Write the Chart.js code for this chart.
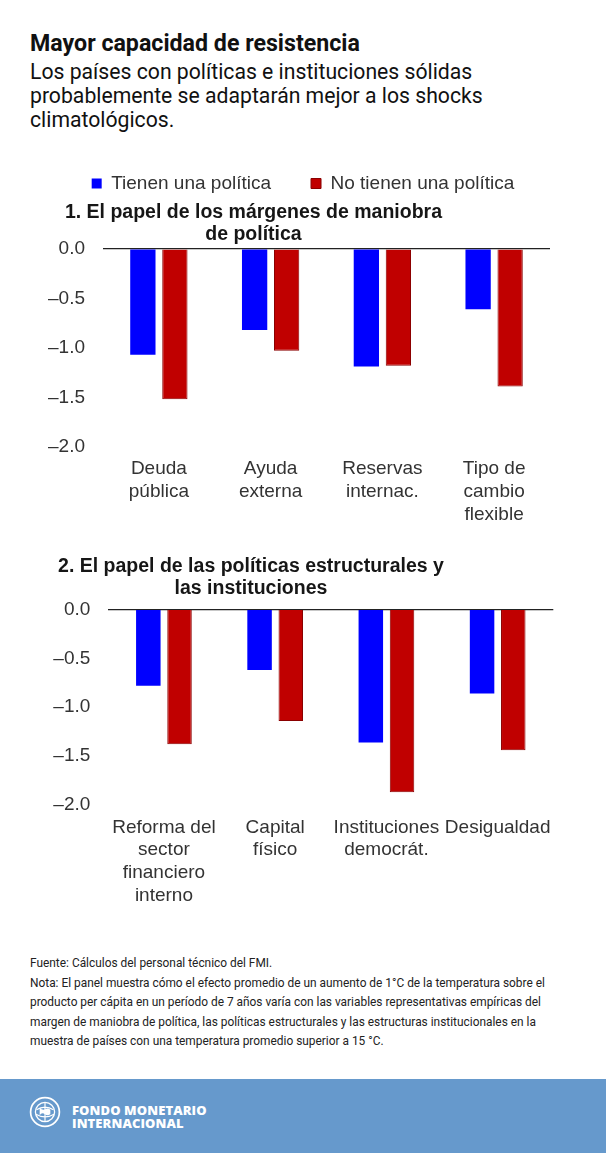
<!DOCTYPE html>
<html lang="es">
<head>
<meta charset="utf-8">
<script src="https://cdn.jsdelivr.net/npm/chart.js@4.4.1/dist/chart.umd.min.js"></script>
<style>
  html, body { margin: 0; padding: 0; background: #fff; }
  body { width: 606px; height: 1153px; position: relative; overflow: hidden; }
  .abs { position: absolute; }
  #title { left: 30px; top: 31px; font: 700 23.2px/24px Roboto, sans-serif; color: #111; white-space: nowrap; }
  #subtitle { left: 30px; top: 59.5px; font: 400 21.2px/24px Roboto, sans-serif; color: #111; white-space: nowrap; }
  .ptitle { left: 0; width: 507px; text-align: center; font: 700 19.5px/22px "Liberation Sans", Arial, sans-serif; color: #161616; z-index: 3; white-space: nowrap; }
  #p1title { top: 200px; }
  #p2title { top: 554px; width: 502px; }
  #c1wrap { left: 0; top: 134px; width: 606px; height: 406px; }
  #c2wrap { left: 0; top: 580px; width: 606px; height: 340px; }
  #notes { left: 30px; top: 954px; font: 400 11.9px/19.5px Roboto, sans-serif; color: #222; white-space: nowrap; }
  #band { left: 0; top: 1079px; width: 606px; height: 74px; background: #6699cc; }
  #logo { left: 29px; top: 17px; }
  #imf { left: 72px; top: 24.5px; font: 800 13px/13px "Open Sans", sans-serif; color: #fff; letter-spacing: 0.1px; white-space: nowrap; }
</style>
</head>
<body>
<div id="title" class="abs">Mayor capacidad de resistencia</div>
<div id="subtitle" class="abs">Los países con políticas e instituciones sólidas<br>probablemente se adaptarán mejor a los shocks<br>climatológicos.</div>

<div id="c1wrap" class="abs"><canvas id="chart1"></canvas></div>
<div id="c2wrap" class="abs"><canvas id="chart2"></canvas></div>

<div id="p1title" class="abs ptitle">1. El papel de los márgenes de maniobra<br>de política</div>
<div id="p2title" class="abs ptitle">2. El papel de las políticas estructurales y<br>las instituciones</div>

<div id="notes" class="abs">Fuente: Cálculos del personal técnico del FMI.<br>Nota: El panel muestra cómo el efecto promedio de un aumento de 1°C de la temperatura sobre el<br>producto per cápita en un período de 7 años varía con las variables representativas empíricas del<br>margen de maniobra de política, las políticas estructurales y las estructuras institucionales en la<br>muestra de países con una temperatura promedio superior a 15 °C.</div>

<div id="band" class="abs">
  <svg id="logo" class="abs" width="32" height="32" viewBox="0 0 30 30">
    <circle cx="15" cy="15" r="13.5" fill="none" stroke="#fff" stroke-width="1.6"/>
    <circle cx="15" cy="15" r="9" fill="none" stroke="#fff" stroke-width="1.2"/>
    <path d="M7 13 Q15 8 23 13 M6.5 17 Q15 22 23.5 17 M15 6 L15 24" fill="none" stroke="#fff" stroke-width="1.1"/>
    <path d="M10 11 q3 3 6 1 q2 -1 4 1 l0 4 q-3 2 -5 0 q-3 -2 -5 1z" fill="#fff"/>
  </svg>
  <div id="imf" class="abs">FONDO MONETARIO<br>INTERNACIONAL</div>
</div>

<script>
// ---------------- DATA ----------------
const seriesNames = ['Tienen una política', 'No tienen una política'];

const categories1 = [['Deuda', 'pública'], ['Ayuda', 'externa'], ['Reservas', 'internac.'], ['Tipo de', 'cambio', 'flexible']];
const tienen1 = [-1.07, -0.82, -1.19, -0.61];
const noTienen1 = [-1.52, -1.03, -1.18, -1.39];

const categories2 = [['Reforma del', 'sector', 'financiero', 'interno'], ['Capital', 'físico'], ['Instituciones', 'democrát.'], ['Desigualdad']];
const tienen2 = [-0.78, -0.62, -1.36, -0.86];
const noTienen2 = [-1.38, -1.14, -1.87, -1.44];

const yTicks = [0, -0.5, -1, -1.5, -2];
const yTickLabels = ['0.0', '–0.5', '–1.0', '–1.5', '–2.0'];

// ---------------- STYLE ----------------
const BLUE = '#0000ff';
const RED = '#c00000';
const RED_EDGE = '#8a0000';
const TXT = '#333333';
const FONT = { family: '"Liberation Sans", Arial, sans-serif', size: 19 };

function makeDatasets(a, b, cp, bp) {
  return [
    { label: seriesNames[0], data: a, backgroundColor: BLUE, borderColor: BLUE, borderWidth: 0,
      categoryPercentage: cp, barPercentage: bp },
    { label: seriesNames[1], data: b, backgroundColor: RED, borderColor: RED_EDGE, borderWidth: 1,
      categoryPercentage: cp, barPercentage: bp }
  ];
}

function yScale(maxVal, width) {
  return {
    type: 'linear', position: 'left',
    min: -2, max: maxVal,
    afterBuildTicks(s) { s.ticks = yTicks.map(v => ({ value: v })); },
    afterFit(s) { s.width = width; },
    grid: {
      drawTicks: false,
      color: c => (c.tick && c.tick.value === 0) ? '#222' : 'rgba(0,0,0,0)',
      lineWidth: 1.3
    },
    border: { display: false },
    ticks: {
      padding: 18, color: TXT, font: FONT,
      callback: v => yTickLabels[yTicks.indexOf(v)]
    }
  };
}

function rightSpacer(width) {
  return {
    type: 'linear', position: 'right', display: true,
    afterFit(s) { s.width = width; },
    grid: { display: false, drawTicks: false },
    border: { display: false },
    ticks: { display: false }
  };
}

function xScale(h) {
  return {
    afterFit(s) { s.height = h; },
    grid: { display: false, drawTicks: false },
    border: { display: false },
    ticks: { padding: 11, color: TXT, font: FONT, autoSkip: false, maxRotation: 0, minRotation: 0 }
  };
}

Chart.defaults.font.family = FONT.family;

new Chart(document.getElementById('chart1'), {
  type: 'bar',
  data: { labels: categories1, datasets: makeDatasets(tienen1, noTienen1, 0.573, 0.79) },
  options: {
    responsive: true, maintainAspectRatio: false, animation: false,
    layout: { padding: { left: 0, right: 0, top: 0, bottom: 3.3 } },
    plugins: {
      legend: {
        display: true, position: 'top',
        labels: { boxWidth: 10, boxHeight: 10, padding: 40, color: TXT, font: FONT }
      },
      tooltip: { enabled: false }
    },
    scales: { x: xScale(90), y: yScale(0.465, 103), yr: rightSpacer(56) }
  }
});

new Chart(document.getElementById('chart2'), {
  type: 'bar',
  data: { labels: categories2, datasets: makeDatasets(tienen2, noTienen2, 0.561, 0.785) },
  options: {
    responsive: true, maintainAspectRatio: false, animation: false,
    layout: { padding: { left: 0, right: 0, top: 22.3, bottom: 15 } },
    plugins: { legend: { display: false }, tooltip: { enabled: false } },
    scales: { x: xScale(100), y: yScale(0, 108.3), yr: rightSpacer(52.7) }
  }
});
</script>
</body>
</html>
